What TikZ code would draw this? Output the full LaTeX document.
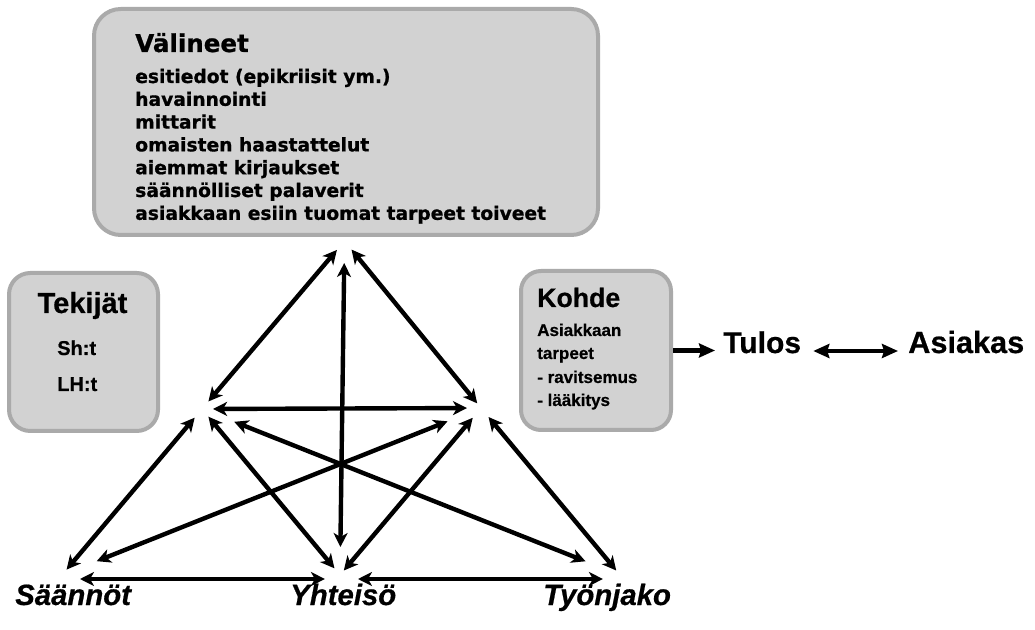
\documentclass[tikz,border=0pt]{standalone}
\usepackage{fontspec}
\setmainfont{Liberation Sans}[BoldFeatures={FakeBold=0.6},BoldItalicFeatures={FakeBold=0.6}]
\newfontfamily\verd{DejaVu Sans}[BoldFeatures={FakeBold=0.9}]
\usetikzlibrary{arrows.meta}
\definecolor{boxfill}{RGB}{210,210,210}
\definecolor{boxline}{RGB}{170,170,170}
\begin{document}
\begin{tikzpicture}[x=0.75pt,y=-0.75pt,
  box/.style={draw=boxline, fill=boxfill, line width=3pt, inner sep=0pt},
  lbl/.style={anchor=base west, inner sep=0pt},
  arr/.style={line width=3.3pt, {Stealth[length=10.5pt,width=10.5pt,inset=3pt]}-{Stealth[length=10.5pt,width=10.5pt,inset=3pt]}},
  bigarr/.style={line width=3.6pt, -{Stealth[length=12pt,width=10.5pt,inset=1.5pt]}},
  bigdbl/.style={line width=3.6pt, {Stealth[length=12pt,width=10.5pt,inset=1.5pt]}-{Stealth[length=12pt,width=10.5pt,inset=1.5pt]}},
  vfont/.style={font=\verd\bfseries\fontsize{14}{17}\selectfont},
  corner/.style={font=\bfseries\itshape\fontsize{22}{26}\selectfont}]
\fill[white] (0,0) rectangle (1035,630);
\useasboundingbox (0,0) rectangle (1035,630);

% boxes
\node[box, rounded corners=20pt, minimum width=378pt, minimum height=169.5pt] (valbox) at (346,122) {};
\node[box, rounded corners=16pt, minimum width=111.75pt, minimum height=118.5pt] (tekbox) at (83.5,352) {};
\node[box, rounded corners=15pt, minimum width=112.5pt, minimum height=119.25pt] (kohde) at (596,350.5) {};

% Välineet text
\node[lbl, font=\verd\bfseries\fontsize{18.4}{22}\selectfont] (valt) at (135,52) {Välineet};
\foreach \t [count=\i] in {esitiedot (epikriisit ym.), havainnointi, mittarit, omaisten haastattelut, aiemmat kirjaukset, säännölliset palaverit, asiakkaan esiin tuomat tarpeet toiveet}
  \node[lbl, vfont] (v\i) at (135,{60.2+22.8*\i}) {\t};

% Tekijät text
\node[anchor=base, inner sep=0pt, font=\bfseries\fontsize{21.75}{26}\selectfont] (tekt) at (82.5,313) {Tekijät};
\node[lbl, font=\bfseries\fontsize{15}{18}\selectfont] (sh) at (57,355) {Sh:t};
\node[lbl, font=\bfseries\fontsize{15}{18}\selectfont] (lh) at (57,391) {LH:t};

% Kohde text
\node[lbl, font=\bfseries\fontsize{20}{24}\selectfont] (kohdet) at (537,307) {Kohde};
\node[lbl, font=\bfseries\fontsize{12.75}{15}\selectfont] (k1) at (537,336) {Asiakkaan};
\node[lbl, font=\bfseries\fontsize{12.75}{15}\selectfont] (k2) at (537,359) {tarpeet};
\node[lbl, font=\bfseries\fontsize{12.75}{15}\selectfont] (k3) at (537,383) {- ravitsemus};
\node[lbl, font=\bfseries\fontsize{12.75}{15}\selectfont] (k4) at (537,406) {- lääkitys};

% Tulos, Asiakas
\node[lbl, font=\bfseries\fontsize{22.5}{27}\selectfont] (tulos) at (723,353) {Tulos};
\node[lbl, font=\bfseries\fontsize{23}{27}\selectfont] (asiakas) at (908,353) {Asiakas};
\draw[bigarr, shorten >=6pt] (kohde.east) -- (kohde.east -| tulos.west);
\draw[bigdbl, shorten <=9pt, shorten >=7.5pt] ([yshift=1.5pt]tulos.base east) -- ([yshift=1.5pt]asiakas.base west);

% corner labels
\node[lbl, corner] (saannot) at (15,605) {Säännöt};
\node[lbl, corner] (yhteiso) at (290,605) {Yhteisö};
\node[lbl, corner] (tyonjako) at (543,605) {Työnjako};

% triangle vertices
\coordinate (T) at (344.5,241);
\coordinate (S) at (202,409);
\coordinate (O) at (481,408);
\coordinate (R) at (62,575);
\coordinate (C) at (340,575);
\coordinate (D) at (620,575);

\draw[arr, shorten <=8.8pt, shorten >=7.4pt] (T) -- (S);
\draw[arr, shorten <=8.3pt, shorten >=4.5pt] (T) -- (O);
\draw[arr, shorten <=16.5pt, shorten >=21pt] (T) -- (C);
\draw[arr, shorten <=8.3pt, shorten >=10.5pt] (S) -- (O);
\draw[arr, shorten <=5.3pt, shorten >=8.5pt] (R) -- (S);
\draw[arr, shorten <=7.5pt, shorten >=6.5pt] (S) -- (C);
\draw[arr, shorten <=26pt, shorten >=27.8pt] (S) -- (D);
\draw[arr, shorten <=28pt, shorten >=27pt] (R) -- (O);
\draw[arr, shorten <=4.4pt, shorten >=9.6pt] (C) -- (O);
\draw[arr, shorten <=8.8pt, shorten >=4.4pt] (O) -- (D);
\draw[arr, shorten <=13.5pt, shorten >=11.3pt] ([yshift=-3pt]R) -- ([yshift=-3pt]C);
\draw[arr, shorten <=13.5pt, shorten >=12.8pt] ([yshift=-3pt]C) -- ([yshift=-3pt]D);
\end{tikzpicture}
\end{document}
